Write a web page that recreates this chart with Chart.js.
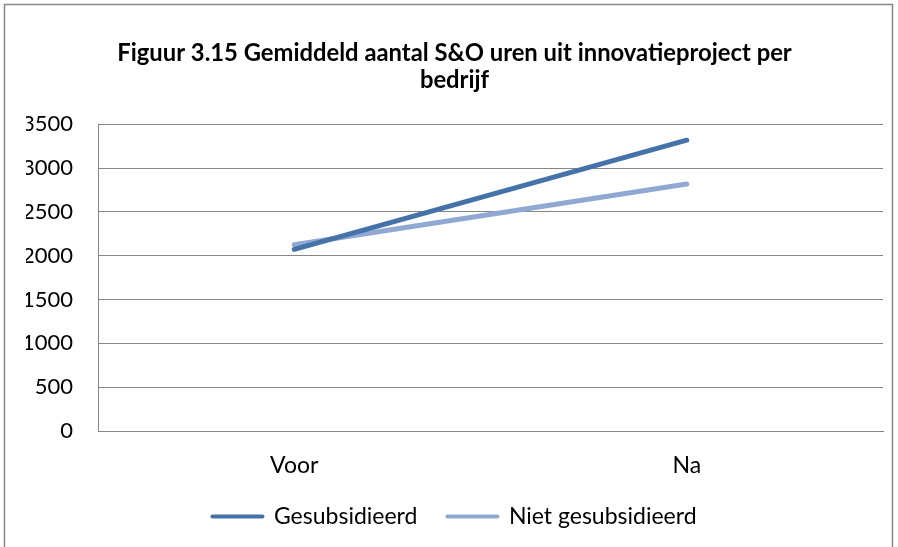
<!DOCTYPE html>
<html>
<head>
<meta charset="utf-8">
<script src="https://cdn.jsdelivr.net/npm/chart.js@4"></script>
<style>
  html, body { margin: 0; padding: 0; background: #fff; }
  #wrap { width: 898px; height: 547px; }
</style>
</head>
<body>
<div id="wrap"><canvas id="chart-uren"></canvas></div>
<script>
const labelsUren = ["Voor", "Na"];
const gesubsidieerd = [2072, 3318];
const nietGesubsidieerd = [2125, 2818];
const yTicks = [0, 500, 1000, 1500, 2000, 2500, 3000, 3500];

const ctxUren = document.querySelector("#chart-uren").getContext("2d");

const FONT = "Lato, 'Open Sans', sans-serif";

// white background + grey frame round the chart, like the Excel chart object
const frame = {
  id: "frame",
  beforeDraw(chart) {
    const c = chart.ctx;
    c.save();
    c.fillStyle = "#ffffff";
    c.fillRect(0, 0, chart.width, chart.height);
    c.strokeStyle = "#868686";
    c.lineWidth = 1.5;
    c.strokeRect(4.5, 4.5, 888, 620);
    c.restore();
  },
};

const dataUren = {
  labels: labelsUren,
  datasets: [
    {
      label: "Gesubsidieerd",
      data: gesubsidieerd,
      borderColor: "#4672AA",
      backgroundColor: "#4672AA",
    },
    {
      label: "Niet gesubsidieerd",
      data: nietGesubsidieerd,
      borderColor: "#8FA9D3",
      backgroundColor: "#8FA9D3",
    },
  ],
};

const optionsUren = {
  responsive: true,
  maintainAspectRatio: false,
  animation: false,
  layout: { padding: { top: 4, left: 26, right: 15, bottom: 9 } },
  elements: {
    line: { borderWidth: 5, tension: 0, borderCapStyle: "round" },
    point: { radius: 0, hoverRadius: 0 },
  },
  scales: {
    y: {
      min: 0,
      max: 3500,
      afterBuildTicks(scale) {
        scale.ticks = yTicks.map((v) => ({ value: v }));
      },
      afterFit(scale) {
        scale.width = 72;
      },
      grid: { color: "#868686", drawTicks: false, lineWidth: 1 },
      border: { color: "#868686", width: 1 },
      ticks: {
        padding: 25,
        color: "#000",
        font: { family: FONT, size: 22 },
        callback: (v) => String(v),
      },
    },
    x: {
      offset: true,
      afterFit(scale) {
        scale.height = 44;
      },
      grid: { display: false, drawTicks: false },
      border: { color: "#868686", width: 1 },
      ticks: {
        padding: 21,
        color: "#000",
        font: { family: FONT, size: 23 },
      },
    },
  },
  plugins: {
    title: {
      display: true,
      text: [
        "Figuur 3.15 Gemiddeld aantal S&O uren uit innovatieproject per",
        "bedrijf",
      ],
      color: "#000",
      font: { family: FONT, size: 23.8, weight: "bold", lineHeight: 1.14 },
      padding: { top: 36, bottom: 30 },
    },
    legend: {
      position: "bottom",
      labels: {
        usePointStyle: true,
        pointStyle: "line",
        pointStyleWidth: 50,
        padding: 30,
        color: "#000",
        font: { family: FONT, size: 23 },
        generateLabels(chart) {
          return Chart.defaults.plugins.legend.labels
            .generateLabels(chart)
            .map((l) => ({ ...l, lineWidth: 4, lineCap: "round" }));
        },
      },
    },
    tooltip: { enabled: false },
  },
};

new Chart(ctxUren, {
  type: "line",
  data: dataUren,
  options: optionsUren,
  plugins: [frame],
});
</script>
</body>
</html>
